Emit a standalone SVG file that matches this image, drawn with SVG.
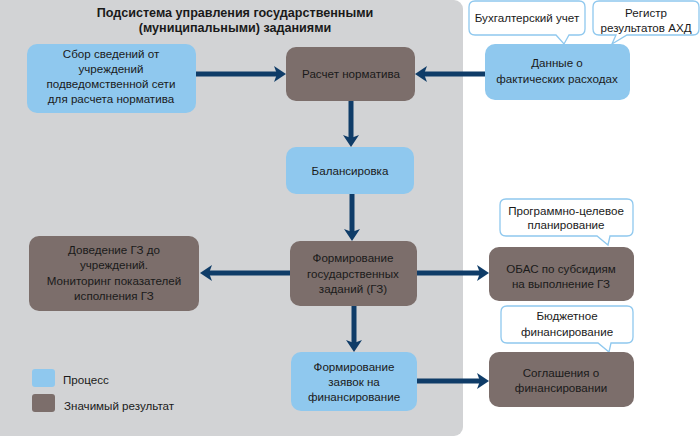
<svg xmlns="http://www.w3.org/2000/svg" width="700" height="438" viewBox="0 0 700 438">
<defs>
<style>
.t{font-family:"Liberation Sans",Arial,sans-serif;font-size:11.6px;fill:#1a1a1a;text-anchor:middle}
.h{font-family:"Liberation Sans",Arial,sans-serif;font-size:12.6px;font-weight:bold;fill:#1a1a1a;text-anchor:middle}
.p{fill:#8fc8ee}
.r{fill:#7c6e6b}
.c{fill:#fff;stroke:#8fc8ee;stroke-width:1.3}
.a{stroke:#0f3c68;stroke-width:5;fill:none;marker-end:url(#ah)}
</style>
<marker id="ah" markerUnits="userSpaceOnUse" viewBox="-6 -9 14 18" refX="0" refY="0" markerWidth="14" markerHeight="18" orient="auto">
<path d="M7,0 L-5,-8 L-2,0 L-5,8 Z" fill="#0f3c68"/>
</marker>
</defs>
<rect x="-8" y="0" width="471" height="436" rx="9" fill="#d2d3d5"/>
<text class="h" x="235" y="17">Подсистема управления государственными</text>
<text class="h" x="235" y="32">(муниципальными) заданиями</text>

<g id="connectors">
<line class="a" x1="196" y1="74" x2="279" y2="74"/>
<line class="a" x1="486" y1="74" x2="422" y2="74"/>
<line class="a" x1="351" y1="101" x2="351" y2="140"/>
<line class="a" x1="352" y1="194" x2="352" y2="234"/>
<line class="a" x1="290" y1="273" x2="207" y2="273"/>
<line class="a" x1="417" y1="273" x2="482" y2="273"/>
<line class="a" x1="354" y1="306" x2="354" y2="345"/>
<line class="a" x1="417" y1="381" x2="482" y2="381"/>
</g>

<g id="sbor">
<rect class="p" x="27" y="44" width="169" height="69" rx="10"/>
<text class="t" x="111" y="58">Сбор сведений от</text>
<text class="t" x="111" y="73">учреждений</text>
<text class="t" x="111" y="88">подведомственной сети</text>
<text class="t" x="111" y="103">для расчета норматива</text>
</g>
<g id="raschet">
<rect class="r" x="286" y="47" width="129" height="54" rx="10"/>
<text class="t" x="351" y="78">Расчет норматива</text>
</g>
<g id="dannye">
<rect class="p" x="485" y="44" width="145" height="56" rx="10"/>
<text class="t" x="557" y="67">Данные о</text>
<text class="t" x="557" y="83">фактических расходах</text>
</g>
<g id="buh">
<path class="c" d="M475,1 H579 Q585,1 585,7 V29 Q585,35 579,35 H569 L564,44 L556,35 H475 Q469,35 469,29 V7 Q469,1 475,1 Z"/>
<text class="t" x="527" y="22">Бухгалтерский учет</text>
</g>
<g id="registr">
<path class="c" d="M599,1 H693 Q699,1 699,7 V29 Q699,35 693,35 H627 L612,44 L616,35 H599 Q593,35 593,29 V7 Q593,1 599,1 Z"/>
<text class="t" x="646" y="17">Регистр</text>
<text class="t" x="646" y="32">результатов АХД</text>
</g>
<g id="balans">
<rect class="p" x="286" y="147" width="128" height="47" rx="10"/>
<text class="t" x="350" y="175">Балансировка</text>
</g>
<g id="formGZ">
<rect class="r" x="290" y="241" width="127" height="65" rx="10"/>
<text class="t" x="353" y="262">Формирование</text>
<text class="t" x="353" y="278">государственных</text>
<text class="t" x="353" y="293">заданий (ГЗ)</text>
</g>
<g id="dovedenie">
<rect class="r" x="29" y="236" width="170" height="75" rx="10"/>
<text class="t" x="114" y="254">Доведение ГЗ до</text>
<text class="t" x="114" y="269">учреждений.</text>
<text class="t" x="114" y="285">Мониторинг показателей</text>
<text class="t" x="114" y="300">исполнения ГЗ</text>
</g>
<g id="pcp">
<path class="c" d="M506,199 H627 Q633,199 633,205 V230 Q633,236 627,236 H610 L608,245 L597,236 H506 Q500,236 500,230 V205 Q500,199 506,199 Z"/>
<text class="t" x="566" y="215">Программно-целевое</text>
<text class="t" x="566" y="229">планирование</text>
</g>
<g id="obas">
<rect class="r" x="489" y="247" width="145" height="54" rx="10"/>
<text class="t" x="561" y="273">ОБАС по субсидиям</text>
<text class="t" x="561" y="288">на выполнение ГЗ</text>
</g>
<g id="zayavki">
<rect class="p" x="291" y="352" width="126" height="59" rx="10"/>
<text class="t" x="354" y="371">Формирование</text>
<text class="t" x="354" y="386">заявок на</text>
<text class="t" x="354" y="401">финансирование</text>
</g>
<g id="budzh">
<path class="c" d="M507,306 H627 Q633,306 633,312 V337 Q633,343 627,343 H611 L609,352 L598,343 H507 Q501,343 501,337 V312 Q501,306 507,306 Z"/>
<text class="t" x="567" y="320">Бюджетное</text>
<text class="t" x="567" y="336">финансирование</text>
</g>
<g id="soglash">
<rect class="r" x="489" y="352" width="145" height="55" rx="10"/>
<text class="t" x="561" y="377">Соглашения о</text>
<text class="t" x="561" y="392">финансировании</text>
</g>
<g id="legend">
<rect class="p" x="32" y="369" width="23" height="18" rx="3"/>
<text class="t" x="63" y="384" style="text-anchor:start">Процесс</text>
<rect class="r" x="32" y="394" width="23" height="18" rx="3"/>
<text class="t" x="64" y="410" style="text-anchor:start">Значимый результат</text>
</g>
</svg>
